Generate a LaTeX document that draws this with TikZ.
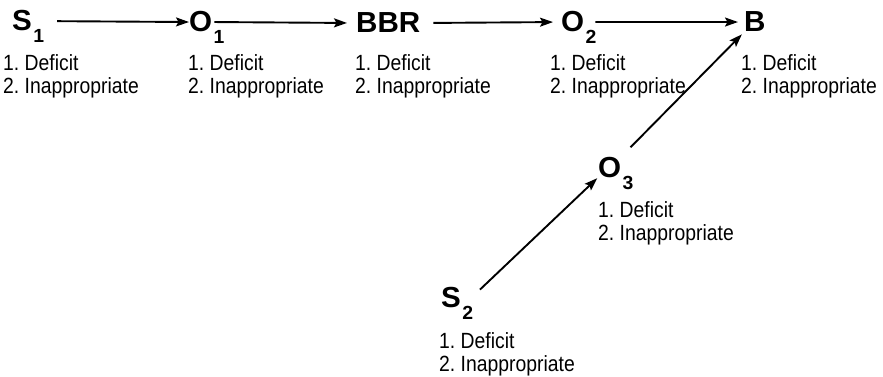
\documentclass[tikz,border=0pt]{standalone}
\usepackage{fontspec}
\setmainfont[FakeStretch=0.88]{Liberation Sans}
\newfontfamily\tfont[FakeStretch=1.02]{Liberation Sans}
\usetikzlibrary{arrows.meta}
\frenchspacing
\newcommand\ttl[2]{#1\rlap{\kern1.5pt\raisebox{-12pt}[0pt][0pt]{\fontsize{19}{19}\selectfont #2}}}
\tikzset{
  ttlbox/.style={inner sep=0pt, anchor=base west, font=\tfont\bfseries\fontsize{29}{29}\selectfont},
  labbox/.style={inner sep=0pt, anchor=base west, align=left, font=\fontsize{22}{23}\selectfont},
  arr/.style={line width=1.9pt, -{Stealth[length=13pt,width=9pt,inset=2.5pt]}}
}
\begin{document}
\begin{tikzpicture}[x=1pt,y=-1pt]
\useasboundingbox (0,0) rectangle (883,377);
% titles
\node[ttlbox] (S1) at (12,31) {\ttl{S}{1}};
\node[ttlbox] (O1) at (189,32) {\ttl{O}{1}};
\node[ttlbox] (BBR) at (356,33) {BBR};
\node[ttlbox] (O2) at (561,32) {\ttl{O}{2}};
\node[ttlbox] (B) at (744,32) {B};
\node[ttlbox] (O3) at (598,177) {\ttl{O}{3}};
\node[ttlbox] (S2) at (441,307) {\ttl{S}{2}};
% labels (anchor at baseline of last line)
\node[labbox] (L1) at (3,94) {1. Deficit\\2. Inappropriate};
\node[labbox] (L2) at (188,94) {1. Deficit\\2. Inappropriate};
\node[labbox] (L3) at (355,94) {1. Deficit\\2. Inappropriate};
\node[labbox] (L4) at (550,94) {1. Deficit\\2. Inappropriate};
\node[labbox] (L5) at (741,94) {1. Deficit\\2. Inappropriate};
\node[labbox] (L6) at (598,240) {1. Deficit\\2. Inappropriate};
\node[labbox] (L7) at (439,371) {1. Deficit\\2. Inappropriate};
% connectors
\draw[arr, shorten <=25pt, shorten >=0pt] (S1.east) -- (O1.west);
\draw[arr, shorten <=2pt, shorten >=9pt] (O1.east) -- (BBR.west);
\draw[arr, shorten <=13pt, shorten >=8pt] (BBR.east) -- (O2.west);
\draw[arr, shorten <=11pt, shorten >=6pt] (O2.east) -- (B.west);
\draw[arr, shorten <=26pt, shorten >=1pt] (S2.south east) -- (O3.south west);
\draw[arr, shorten <=13pt, shorten >=3pt] (O3.north east) -- (B.south west);
\end{tikzpicture}
\end{document}
